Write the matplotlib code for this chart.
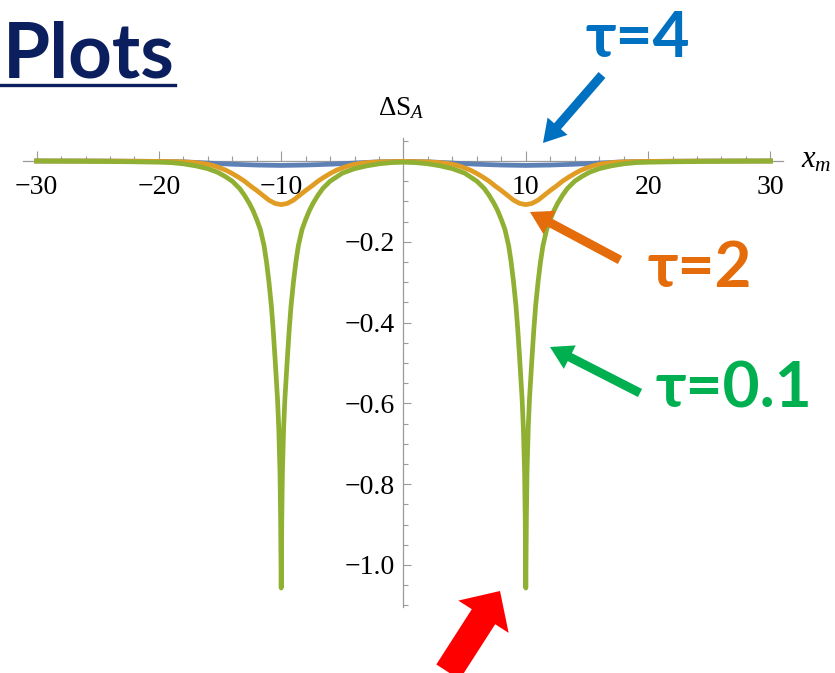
import numpy as np
import matplotlib
matplotlib.use('Agg')
import matplotlib.pyplot as plt
from matplotlib.lines import Line2D

plt.rcParams['mathtext.fontset'] = 'custom'
plt.rcParams['mathtext.rm'] = 'Liberation Serif'
plt.rcParams['mathtext.it'] = 'Liberation Serif:italic'

# half curves for x >= 0 (the curves are even in x_m)
x_tau01 = [0, 1, 2, 3, 4, 5, 6, 6.6, 7, 7.4, 7.7, 8.0, 8.3, 8.6, 8.8, 9.0, 9.2, 9.35,
           9.5, 9.6, 9.7, 9.8, 9.9, 9.95, 10, 10.05, 10.1, 10.2, 10.3, 10.4, 10.5,
           10.65, 10.8, 11.0, 11.2, 11.4, 11.7, 12.0, 12.3, 12.6, 13.0, 13.4, 14.0,
           14.6, 15.2, 16, 17, 18, 19, 20, 22, 25, 30]
s_tau01 = [-0.003, -0.004, -0.007, -0.012, -0.019, -0.030, -0.050, -0.068, -0.085,
           -0.105, -0.123, -0.145, -0.17, -0.21, -0.25, -0.30, -0.36, -0.42, -0.49,
           -0.54, -0.59, -0.66, -0.77, -0.88, -1.057, -0.88, -0.77, -0.66, -0.59,
           -0.54, -0.49, -0.42, -0.36, -0.30, -0.25, -0.21, -0.17, -0.145, -0.123,
           -0.105, -0.085, -0.068, -0.050, -0.038, -0.028, -0.019, -0.012, -0.007,
           -0.004, -0.003, -0.002, -0.001, 0.0]

x_tau2 = [0, 2, 3, 4, 4.5, 5, 5.5, 6, 6.5, 7, 7.5, 8, 8.5, 9, 9.5, 10, 10.5, 11,
          11.5, 12, 12.5, 13, 13.5, 14, 14.5, 15, 15.5, 16, 17, 18, 20, 25, 30]
s_tau2 = [-0.001, -0.002, -0.004, -0.008, -0.012, -0.017, -0.023, -0.031, -0.040,
          -0.050, -0.062, -0.073, -0.085, -0.097, -0.105, -0.108, -0.105, -0.097,
          -0.085, -0.073, -0.062, -0.050, -0.040, -0.031, -0.023, -0.017, -0.012,
          -0.008, -0.004, -0.002, -0.001, 0.0, 0.0]

x_tau4 = [0, 2, 4, 6, 8, 10, 12, 14, 16, 18, 20, 25, 30]
s_tau4 = [-0.001, -0.002, -0.005, -0.008, -0.010, -0.011, -0.010, -0.008, -0.005,
          -0.002, -0.001, 0.0, 0.0]

x_ticks = [-30, -20, -10, 10, 20, 30]
y_ticks = [-1.0, -0.8, -0.6, -0.4, -0.2]


def full(xh, yh):
    xh = np.array(xh, float)
    yh = np.array(yh, float)
    return np.r_[-xh[::-1], xh[1:]], np.r_[yh[::-1], yh[1:]]


W, H = 835, 673
fig = plt.figure(figsize=(W / 100, H / 100), dpi=100)

# axes placed so that x=0 sits at 403.5 px and y=0 at 161 px from the top
x0, xs = 403.5, 12.23
y0, ys = 161.0, 404.0
xlim = (-33, 33)
ylim = (-1.12, 0.1)
left = x0 + xlim[0] * xs
bottom = H - (y0 - ylim[0] * ys)
ax = fig.add_axes([left / W, bottom / H, (xlim[1] - xlim[0]) * xs / W,
                   (ylim[1] - ylim[0]) * ys / H])
ax.set_xlim(*xlim)
ax.set_ylim(*ylim)

for xh, yh, c in [(x_tau4, s_tau4, '#5E81B5'),
                  (x_tau2, s_tau2, '#E19C24'),
                  (x_tau01, s_tau01, '#8FB032')]:
    xx, yy = full(xh, yh)
    ax.plot(xx, yy, color=c, lw=3.4, solid_joinstyle='round', zorder=3)

# axes through the origin, Mathematica style
ax.spines['top'].set_visible(False)
ax.spines['right'].set_visible(False)
ax.spines['left'].set_position(('data', 0))
ax.spines['bottom'].set_position(('data', 0))
ax.spines['bottom'].set_bounds(-31.1, 31.0)
ax.spines['left'].set_bounds(-1.105, 0.057)
for s in ('left', 'bottom'):
    ax.spines[s].set_color('#9a9a9a')
    ax.spines[s].set_linewidth(0.9)
    ax.spines[s].set_zorder(1)

ax.set_xticks(x_ticks)
ax.set_xticklabels([str(t).replace('-', '\u2212') for t in x_ticks])
ax.set_xticks([v for v in range(-30, 31, 2) if v % 10 != 0], minor=True)
ax.set_yticks(y_ticks)
ax.set_yticklabels([('%.1f' % t).replace('-', '\u2212') for t in y_ticks])
ax.set_yticks([v / 100 for v in range(-110, 6, 5) if v % 20 != 0], minor=True)

ax.tick_params(which='both', direction='in', color='#9a9a9a', width=0.8,
               labelsize=20, labelfontfamily='Liberation Serif')
ax.tick_params(axis='x', which='major', length=7, pad=10)
ax.tick_params(axis='x', which='minor', length=3.5)
ax.tick_params(axis='y', which='major', length=6, pad=6)
ax.tick_params(axis='y', which='minor', length=3.5)


def fx(px):
    return px / W


def fy(py):
    return 1 - py / H


fig.text(fx(401), fy(108), r'$\Delta\mathrm{S}_A$', fontsize=19.5, ha='center', va='center')
fig.text(fx(801), fy(160), r'$x_m$', fontsize=22, ha='left', va='center')

# heading
fig.text(fx(3), fy(77), 'Plots', fontsize=55, fontweight='bold', color='#0B1F5E',
         family='Lato', va='baseline', ha='left')
fig.add_artist(Line2D([0, fx(175)], [fy(85), fy(85)], color='#0B1F5E', lw=2.4,
                      transform=fig.transFigure))

lab_font = ['Lato', 'Noto Sans', 'DejaVu Sans']
fig.text(fx(586), fy(57), '\u03c4=4', fontsize=46, fontweight='bold', color='#0070C0',
         family=lab_font, va='baseline')
fig.text(fx(648), fy(287), '\u03c4=2', fontsize=46, fontweight='bold', color='#E46C0A',
         family=lab_font, va='baseline')
fig.text(fx(656), fy(408), '\u03c4=0.1', fontsize=46, fontweight='bold', color='#00B050',
         family=lab_font, va='baseline')


def arrow(tail, tip, color, tw, hw, hl):
    ax.annotate('', xy=(tip[0], H - tip[1]), xytext=(tail[0], H - tail[1]),
                xycoords='figure pixels', textcoords='figure pixels',
                arrowprops=dict(arrowstyle='simple,head_length=%g,head_width=%g,tail_width=%g'
                                % (hl, hw, tw), mutation_scale=1, color=color,
                                shrinkA=0, shrinkB=0, lw=0))


arrow((602, 75), (543, 143), '#0070C0', 6.5, 19, 16)
arrow((620, 260), (530, 212), '#E46C0A', 6.5, 19, 16)
arrow((640, 393), (550, 347), '#00B050', 6.5, 19, 16)
arrow((448, 672), (500, 591), '#FF0000', 20, 43, 22)

fig.savefig('out.png', dpi=100)
